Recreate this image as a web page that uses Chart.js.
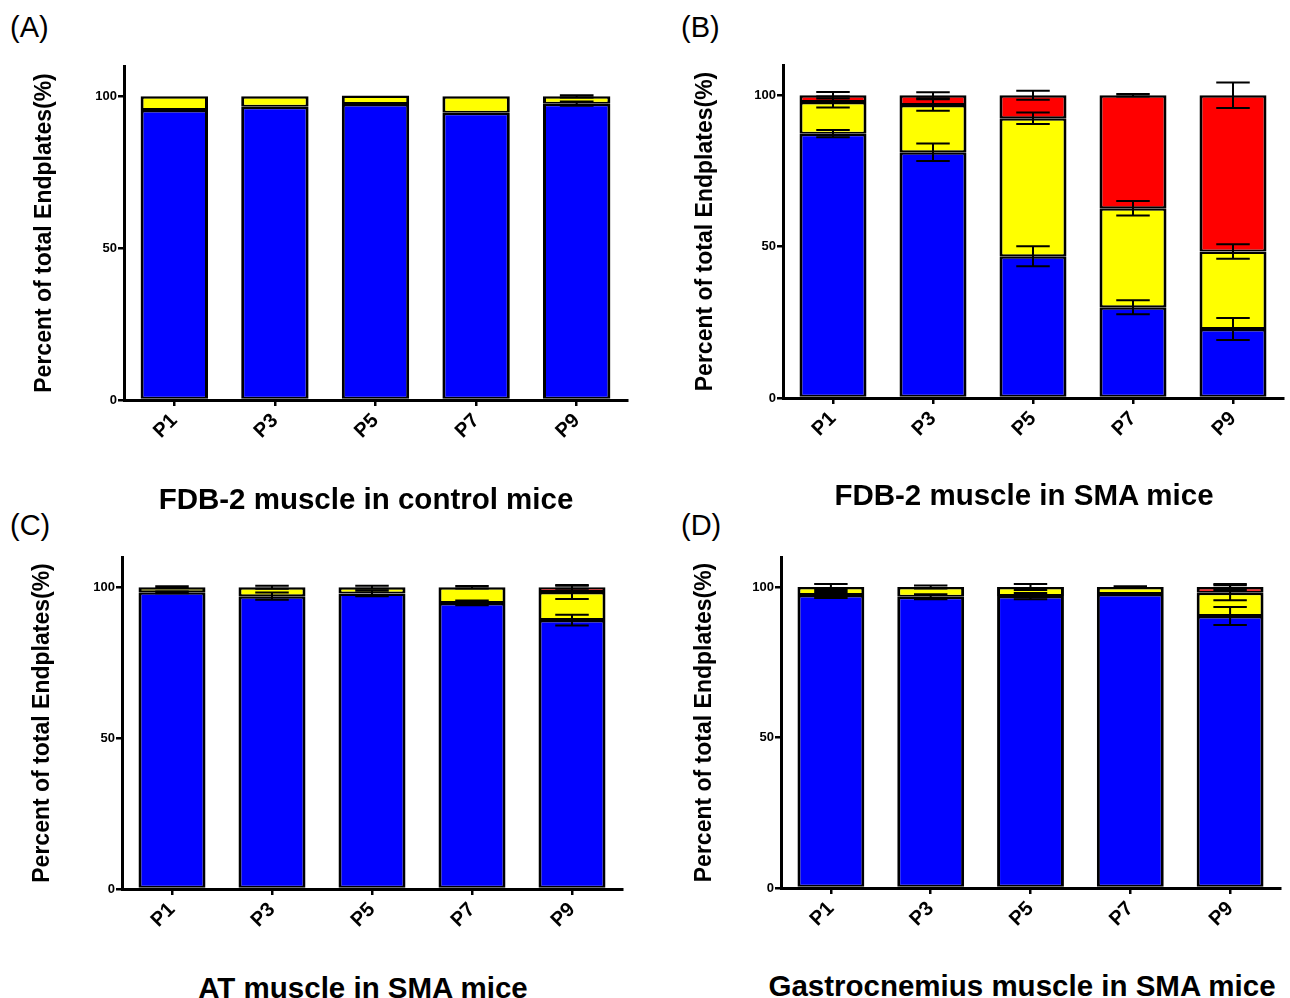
<!DOCTYPE html>
<html>
<head>
<meta charset="utf-8">
<script src="https://cdn.jsdelivr.net/npm/chart.js@4.4.1/dist/chart.umd.min.js"></script>
<style>
  body { margin: 0; background: #fff; width: 1290px; height: 998px; position: relative; overflow: hidden; }
  canvas { position: absolute; }
  .tag { position: absolute; font: 29px "Liberation Sans", Arial, sans-serif; color: #000; line-height: 1; }
  .cap { position: absolute; font: bold 29.5px "Liberation Sans", Arial, sans-serif; color: #000; line-height: 1; white-space: nowrap; transform: translateX(-50%); }
</style>
</head>
<body>
<div class="tag" style="left:10px;top:13px">(A)</div>
<div class="tag" style="left:681px;top:13px">(B)</div>
<div class="tag" style="left:10px;top:511px">(C)</div>
<div class="tag" style="left:681px;top:511px">(D)</div>

<canvas id="chartA" width="645" height="470" style="left:0;top:0"></canvas>
<canvas id="chartB" width="645" height="470" style="left:645px;top:0"></canvas>
<canvas id="chartC" width="645" height="470" style="left:0;top:490px"></canvas>
<canvas id="chartD" width="645" height="470" style="left:645px;top:490px"></canvas>

<div class="cap" style="left:366px;top:484px">FDB-2 muscle in control mice</div>
<div class="cap" style="left:1024px;top:480px">FDB-2 muscle in SMA mice</div>
<div class="cap" style="left:363px;top:973px">AT muscle in SMA mice</div>
<div class="cap" style="left:1022px;top:971px">Gastrocnemius muscle in SMA mice</div>

<script>
// Postnatal days on the x axis
const days = ['P1', 'P3', 'P5', 'P7', 'P9'];
const yTicks = [0, 50, 100];

// (A) FDB-2 muscle, control mice
const blueA = [95.5, 96.6, 97.5, 94.6, 97.6];
const yellowA = [4.5, 3.4, 2.8, 5.4, 2.4];
const redA = [0, 0, 0, 0, 0];
const blueErrA = [0, 0, 0, 0, 0.7];
const yellowErrA = [0, 0, 0, 0, 0.4];
const redErrA = [0, 0, 0, 0, 0];

// (B) FDB-2 muscle, SMA mice
const blueB = [87.3, 81.2, 46.8, 30.0, 22.8];
const yellowB = [10.5, 15.6, 45.6, 32.7, 25.6];
const redB = [2.2, 3.2, 7.6, 37.3, 51.6];
const blueErrB = [1.2, 2.9, 3.3, 2.3, 3.6];
const yellowErrB = [1.8, 1.9, 1.9, 2.4, 2.4];
const redErrB = [1.1, 1.0, 1.5, 0.4, 4.2];

// (C) AT muscle, SMA mice
const blueC = [98.3, 97.0, 97.9, 94.8, 89.1];
const yellowC = [1.7, 3.0, 2.1, 5.2, 9.3];
const redC = [0, 0, 0, 0, 1.6];
const blueErrC = [0.3, 1.2, 0.9, 0.8, 1.8];
const yellowErrC = [0.3, 0.5, 0.5, 0.4, 2.3];
const redErrC = [0, 0, 0, 0, 0.5];

// (D) Gastrocnemius muscle, SMA mice
const blueD = [97.4, 96.8, 97.0, 97.7, 90.4];
const yellowD = [2.6, 3.2, 3.0, 2.3, 7.7];
const redD = [0, 0, 0, 0, 1.9];
const blueErrD = [1.0, 0.8, 1.0, 0.3, 3.0];
const yellowErrD = [1.0, 0.5, 1.0, 0.3, 2.5];
const redErrD = [0, 0, 0, 0, 1.0];

const FONT = '"Liberation Sans", Arial, sans-serif';

// Draws +/- error bars at the top of every stacked segment
const errorBars = {
    id: 'errorBars',
    afterDatasetsDraw(chart) {
        let ctx = chart.ctx;
        let yScale = chart.scales.y;
        let sets = chart.data.datasets;
        ctx.save();
        ctx.strokeStyle = '#000';
        ctx.lineWidth = 2;
        sets.forEach(function (ds, i) {
            let meta = chart.getDatasetMeta(i);
            ds.errors.forEach(function (err, j) {
                if (!err) return;
                let top = 0;
                for (let k = 0; k <= i; k++) top += sets[k].data[j];
                let bar = meta.data[j];
                let x = bar.x;
                let half = bar.width / 4;
                let y1 = yScale.getPixelForValue(top + err);
                let y2 = yScale.getPixelForValue(top - err);
                ctx.beginPath();
                ctx.moveTo(x, y1); ctx.lineTo(x, y2);
                ctx.moveTo(x - half, y1); ctx.lineTo(x + half, y1);
                ctx.moveTo(x - half, y2); ctx.lineTo(x + half, y2);
                ctx.stroke();
            });
        });
        ctx.restore();
    }
};

function makeSet(data, errors, color) {
    return {
        data: data,
        errors: errors,
        backgroundColor: color,
        borderColor: '#000',
        borderWidth: { top: 2.5, right: 3, bottom: 2, left: 3 },
        borderSkipped: false,
        barPercentage: 0.67,
        categoryPercentage: 1
    };
}

// cfg: axis width, right pad, top pad, x-axis height, title offset
function drawPanel(id, blue, yellow, red, blueErr, yellowErr, redErr, cfg) {
    let ctx = document.getElementById(id).getContext('2d');
    return new Chart(ctx, {
        type: 'bar',
        data: {
            labels: days,
            datasets: [
                makeSet(blue, blueErr, '#0000ff'),
                makeSet(yellow, yellowErr, '#ffff00'),
                makeSet(red, redErr, '#ff0000')
            ]
        },
        options: {
            responsive: false,
            animation: false,
            layout: { padding: { top: cfg.top, right: cfg.right, left: 0, bottom: 0 } },
            plugins: { legend: { display: false }, tooltip: { enabled: false } },
            scales: {
                x: {
                    stacked: true,
                    grid: { offset: false, drawOnChartArea: false, color: '#000', lineWidth: 2.5, tickLength: 6 },
                    border: { color: '#000', width: 3 },
                    ticks: {
                        color: '#000', minRotation: 45, maxRotation: 45, autoSkip: false, padding: 3,
                        font: { family: FONT, size: 20, weight: 'bold' }
                    },
                    afterFit: function (scale) { scale.height = cfg.xh; }
                },
                y: {
                    stacked: true,
                    min: 0,
                    max: 110,
                    grid: { drawOnChartArea: false, color: '#000', lineWidth: 2.5, tickLength: 6 },
                    border: { color: '#000', width: 3 },
                    ticks: { color: '#000', padding: 1, font: { family: FONT, size: 13, weight: 'bold' } },
                    afterBuildTicks: function (scale) {
                        scale.ticks = yTicks.map(v => ({ value: v }));
                    },
                    afterFit: function (scale) { scale.width = cfg.left; },
                    title: {
                        display: true,
                        text: 'Percent of total Endplates(%)',
                        color: '#000',
                        font: { family: FONT, size: 23, weight: 'bold' },
                        padding: { top: cfg.titleX - 13.8, bottom: 0 }
                    }
                }
            }
        },
        plugins: [errorBars]
    });
}

drawPanel('chartA', blueA, yellowA, redA, blueErrA, yellowErrA, redErrA,
    { left: 124, right: 18, top: 66, xh: 70, titleX: 45 });
drawPanel('chartB', blueB, yellowB, redB, blueErrB, yellowErrB, redErrB,
    { left: 138, right: 7, top: 65, xh: 72, titleX: 61 });
drawPanel('chartC', blueC, yellowC, redC, blueErrC, yellowErrC, redErrC,
    { left: 122, right: 23, top: 67, xh: 71, titleX: 43 });
drawPanel('chartD', blueD, yellowD, redD, blueErrD, yellowErrD, redErrD,
    { left: 136, right: 10, top: 67, xh: 72, titleX: 60 });
</script>
</body>
</html>
